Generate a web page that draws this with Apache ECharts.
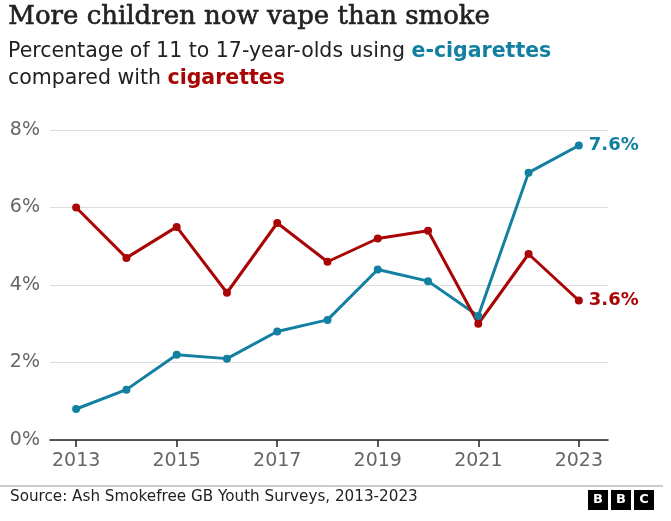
<!DOCTYPE html>
<html><head><meta charset="utf-8">
<script src="https://cdn.jsdelivr.net/npm/echarts@6/dist/echarts.min.js"></script>
<style>html,body{margin:0;padding:0;background:#fff}#c{width:671px;height:521px}</style>
</head><body><div id="c"></div>
<script>
const years = [2013,2014,2015,2016,2017,2018,2019,2020,2021,2022,2023];
const eCigarettes = [0.8,1.3,2.2,2.1,2.8,3.1,4.4,4.1,3.2,6.9,7.6];
const cigarettes = [6.0,4.7,5.5,3.8,5.6,4.6,5.2,5.4,3.0,4.8,3.6];
const yearTicks = [2013,2015,2017,2019,2021,2023];

const TEAL = '#1380A1', RED = '#AA0505';
const SANS = '"DejaVu Sans", sans-serif';
const chart = echarts.init(document.getElementById('c'), null, {renderer:'canvas'});
function pairs(vals){ return years.map((y,i)=>[y, vals[i]]); }
function mkSeries(name, vals, color){
  return {
    name, type:'line', data: pairs(vals), symbol:'circle', symbolSize:8,
    lineStyle:{color, width:3}, itemStyle:{color},
    endLabel:{show:true, formatter:p=>p.value[1].toFixed(1)+'%', color, fontFamily:SANS,
      fontWeight:'bold', fontSize:18, distance:10},
    animation:false, z:3
  };
}
chart.setOption({
  animation:false,
  grid:{left:50, right:63, top:130, bottom:81},
  xAxis:{type:'value', min:2012.48, max:2023.58,
    axisLine:{show:true, onZero:false, lineStyle:{color:'#222', width:1.5}},
    axisTick:{show:true, customValues:yearTicks, length:7, lineStyle:{color:'#222', width:1.5}},
    axisLabel:{customValues:yearTicks, formatter:v=>String(v), color:'#666', fontSize:19, fontFamily:SANS, margin:12},
    splitLine:{show:false}},
  yAxis:{type:'value', min:0, max:8, interval:2,
    axisLine:{show:false}, axisTick:{show:false},
    axisLabel:{formatter:v=>v+'%', color:'#666', fontSize:19, fontFamily:SANS, margin:10},
    splitLine:{lineStyle:{color:'#dddddd', width:1.2}}},
  series:[mkSeries('e-cigarettes', eCigarettes, TEAL), mkSeries('cigarettes', cigarettes, RED)],
  graphic:[
    {type:'text', left:8, top:4, style:{text:'More children now vape than smoke', fill:'#222',
      stroke:'#222', lineWidth:0.6, font:'26px "DejaVu Serif", serif'}},
    {type:'text', left:8, top:38, style:{
      text:'Percentage of 11 to 17-year-olds using {t|e-cigarettes}\ncompared with {r|cigarettes}',
      fill:'#222', fontSize:20.5, fontFamily:SANS, lineHeight:27,
      rich:{t:{fill:TEAL, fontWeight:'bold', fontSize:20.5, fontFamily:SANS},
            r:{fill:RED, fontWeight:'bold', fontSize:20.5, fontFamily:SANS}}}},
    {type:'line', shape:{x1:0, y1:486, x2:663, y2:486}, style:{stroke:'#999', lineWidth:1}},
    {type:'text', left:10, top:490, style:{text:'Source: Ash Smokefree GB Youth Surveys, 2013-2023',
      fill:'#222', fontSize:15.2, fontFamily:SANS}},
    ...['B','B','C'].map((ch,i)=>({type:'group', left:588+i*23, top:490, children:[
      {type:'rect', shape:{x:0,y:0,width:20,height:20}, style:{fill:'#000'}},
      {type:'text', x:10, y:10, style:{text:ch, fill:'#fff', font:'bold 13px "DejaVu Sans", sans-serif',
        align:'center', verticalAlign:'middle'}}]}))
  ]
});
</script></body></html>
